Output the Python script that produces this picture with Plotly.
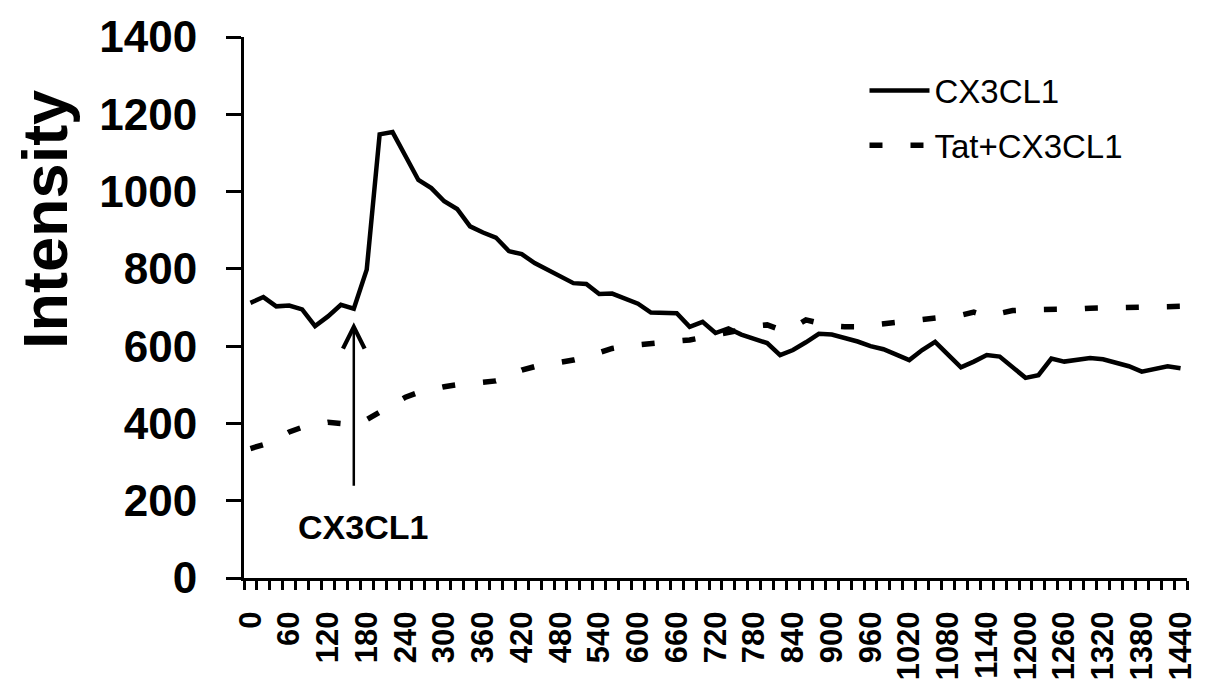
import plotly.graph_objects as go

time_min = [0, 20, 40, 60, 80, 100, 120, 140, 160, 180, 200, 220, 240, 260, 280, 300,
            320, 340, 360, 380, 400, 420, 440, 460, 480, 500, 520, 540, 560, 580, 600,
            620, 640, 660, 680, 700, 720, 740, 760, 780, 800, 820, 840, 860, 880, 900,
            920, 940, 960, 980, 1000, 1020, 1040, 1060, 1080, 1100, 1120, 1140, 1160,
            1180, 1200, 1220, 1240, 1260, 1280, 1300, 1320, 1340, 1360, 1380, 1400,
            1420, 1440]

cx3cl1 = [712, 727, 703, 705, 695, 652, 677, 707, 697, 798, 1148, 1154, 1092, 1030,
          1009, 975, 955, 910, 894, 881, 846, 838, 815, 797, 780, 763, 761, 735, 736,
          724, 710, 687, 686, 685, 650, 663, 634, 646, 630, 618, 608, 577, 590, 610,
          632, 630, 622, 612, 600, 592, 578, 564, 590, 611, 578, 545, 560, 577, 573,
          545, 518, 525, 568, 560, 565, 569, 566, 558, 548, 534, 540, 548, 543]

tat_cx3cl1 = [335, 345, 360, 378, 390, 396, 403, 400, 398, 410, 430, 450, 468, 480,
              488, 495, 500, 503, 506, 510, 522, 538, 547, 552, 558, 564, 572, 583,
              594, 600, 604, 608, 611, 613, 616, 622, 630, 637, 642, 652, 655, 643,
              648, 668, 660, 652, 650, 650, 654, 658, 660, 664, 668, 672, 675, 680,
              688, 678, 685, 692, 694, 694, 694, 694, 696, 698, 699, 699, 699, 699,
              700, 701, 703]

x_labels = [0, 60, 120, 180, 240, 300, 360, 420, 480, 540, 600, 660, 720, 780, 840,
            900, 960, 1020, 1080, 1140, 1200, 1260, 1320, 1380, 1440]
y_ticks = [0, 200, 400, 600, 800, 1000, 1200, 1400]

FONT = "Liberation Sans, Arial, sans-serif"

fig = go.Figure()
fig.add_trace(go.Scatter(x=time_min, y=cx3cl1, mode="lines", name="CX3CL1",
                         legendgroup="a",
                         line=dict(color="black", width=4.5)))
fig.add_trace(go.Scatter(x=time_min, y=tat_cx3cl1, mode="lines", name="Tat+CX3CL1",
                         legendgroup="b",
                         line=dict(color="black", width=5.5, dash="13px,28px")))

# arrow marking CX3CL1 addition
fig.add_annotation(x=160, y=662, ax=160, ay=235, xref="x", yref="y", axref="x", ayref="y",
                   text="", showarrow=True, arrowhead=5, arrowsize=1.7, arrowwidth=2.5,
                   arrowcolor="black")
fig.add_annotation(x=175, y=133, xref="x", yref="y", text="<b>CX3CL1</b>",
                   showarrow=False, font=dict(family=FONT, size=34, color="black"),
                   xanchor="center", yanchor="middle")

# y-axis title
fig.add_annotation(x=-0.211, y=0.662, xref="paper", yref="paper", text="<b>Intensity</b>",
                   textangle=-90, showarrow=False,
                   font=dict(family=FONT, size=63, color="black"),
                   xanchor="center", yanchor="middle")

# the page body adds an 8px offset, so the figure is sized to fit the window
fig.update_layout(
    width=1200, height=678,
    margin=dict(l=236, r=21, t=29, b=108, autoexpand=False),
    paper_bgcolor="white", plot_bgcolor="white",
    showlegend=True,
    legend=dict(x=0.658, y=0.953, xanchor="left", yanchor="top",
                font=dict(family=FONT, size=33, color="black"),
                bgcolor="rgba(0,0,0,0)", itemwidth=60, tracegroupgap=9),
    font=dict(family=FONT, color="black"),
)

fig.update_xaxes(
    range=[-10, 1450], showgrid=False, zeroline=False, automargin=False,
    showline=True, linecolor="black", linewidth=3,
    tickmode="array", tickvals=x_labels, ticktext=[f"<b>{v}</b>" for v in x_labels],
    ticks="", tickangle=-90, ticklabelstandoff=18,
    tickfont=dict(family=FONT, size=31, color="black"),
    minor=dict(tick0=-10, dtick=20, ticks="outside", ticklen=9, tickwidth=2.5,
               tickcolor="black", showgrid=False),
)
fig.update_yaxes(
    range=[0, 1400], showgrid=False, zeroline=False, automargin=False,
    showline=True, linecolor="black", linewidth=3,
    tickmode="array", tickvals=y_ticks, ticktext=[f"<b>{v}</b>" for v in y_ticks],
    ticks="outside", ticklen=15, tickwidth=3, tickcolor="black",
    ticklabelstandoff=20,
    tickfont=dict(family=FONT, size=44, color="black"),
)

fig.write_html("out.html")
